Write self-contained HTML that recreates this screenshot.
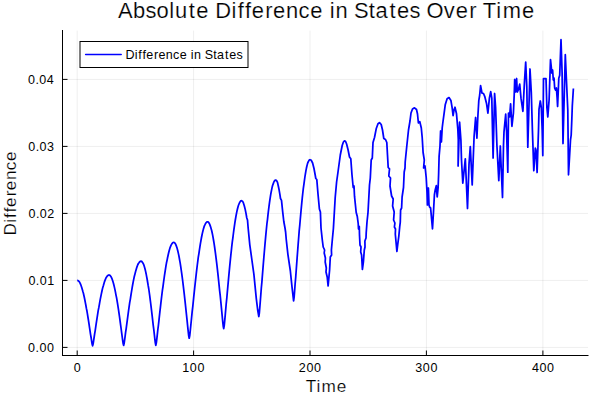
<!DOCTYPE html>
<html><head><meta charset="utf-8"><style>
html,body{margin:0;padding:0;background:#fff;}
svg{display:block;}
text{font-family:"Liberation Sans",sans-serif;fill:#000;}
.big{stroke:#fff;stroke-width:0.2px;paint-order:fill;}
</style></head><body>
<svg width="600" height="400" viewBox="0 0 600 400">
<rect width="600" height="400" fill="#fff"/>
<g stroke="#000" stroke-opacity="0.065" stroke-width="1"><line x1="77.2" y1="30.6" x2="77.2" y2="355" /><line x1="193.6" y1="30.6" x2="193.6" y2="355" /><line x1="310.0" y1="30.6" x2="310.0" y2="355" /><line x1="426.4" y1="30.6" x2="426.4" y2="355" /><line x1="542.9" y1="30.6" x2="542.9" y2="355" /><line x1="62" y1="347.4" x2="588" y2="347.4" /><line x1="62" y1="280.4" x2="588" y2="280.4" /><line x1="62" y1="213.4" x2="588" y2="213.4" /><line x1="62" y1="146.4" x2="588" y2="146.4" /><line x1="62" y1="79.4" x2="588" y2="79.4" /></g>
<g stroke="#000" stroke-width="1">
<line x1="62.5" y1="30" x2="62.5" y2="355.5"/>
<line x1="62" y1="355.5" x2="588.5" y2="355.5"/>
<line x1="77.2" y1="350.5" x2="77.2" y2="355" /><line x1="193.6" y1="350.5" x2="193.6" y2="355" /><line x1="310.0" y1="350.5" x2="310.0" y2="355" /><line x1="426.4" y1="350.5" x2="426.4" y2="355" /><line x1="542.9" y1="350.5" x2="542.9" y2="355" /><line x1="63" y1="347.4" x2="67.5" y2="347.4" /><line x1="63" y1="280.4" x2="67.5" y2="280.4" /><line x1="63" y1="213.4" x2="67.5" y2="213.4" /><line x1="63" y1="146.4" x2="67.5" y2="146.4" /><line x1="63" y1="79.4" x2="67.5" y2="79.4" />
</g>
<g><text x="73.72" y="371.9" font-size="12.53">0</text><text x="182.26 189.86 197.38" y="371.9" font-size="12.53">100</text><text x="298.79 306.47 314.00" y="371.9" font-size="12.53">200</text><text x="415.34 422.86 430.38" y="371.9" font-size="12.53">300</text><text x="531.99 539.52 547.04" y="371.9" font-size="12.53">400</text><text x="28.12 35.51 39.41 46.94" y="351.8" font-size="12.53">0.00</text><text x="28.43 35.81 39.71 47.18" y="284.8" font-size="12.53">0.01</text><text x="28.52 35.90 39.81 47.18" y="217.8" font-size="12.53">0.02</text><text x="28.28 35.67 39.57 47.11" y="150.8" font-size="12.53">0.03</text><text x="28.00 35.38 39.29 46.81" y="83.8" font-size="12.53">0.04</text></g>
<text x="117.90 132.90 145.49 156.46 169.33 175.06 188.71 196.19 208.85 215.27 231.58 237.74 245.03 251.77 265.19 273.01 285.94 298.52 310.25 322.92 329.70 335.51 348.37 354.07 368.80 375.42 389.60 397.07 409.55 420.52 426.48 443.80 455.71 469.14 476.89 482.86 496.32 502.63 522.10" y="17.9" font-size="21.93" class="big">Absolute Difference in States Over Time</text>
<text x="305.86 316.43 321.38 336.67" y="391.8" font-size="17.2" class="big">Time</text>
<text x="-235.53 -222.73 -217.89 -212.17 -206.88 -196.34 -190.20 -180.05 -170.18 -160.97" y="0" font-size="17.2" class="big" transform="translate(16.2,0) rotate(-90)">Difference</text>
<path d="M77.2,280.3 L77.7,280.4 L78.2,280.7 L78.7,281.1 L79.3,281.8 L79.8,282.6 L80.3,283.6 L80.8,284.8 L81.3,286.2 L81.8,287.7 L82.3,289.4 L82.8,291.3 L83.4,293.3 L83.9,295.5 L84.4,297.8 L84.9,300.2 L85.4,302.8 L85.9,305.5 L86.4,308.4 L87.0,311.3 L87.5,314.3 L88.0,317.5 L88.5,320.7 L89.0,323.9 L89.5,327.3 L90.0,330.7 L90.5,334.1 L91.1,337.5 L91.6,340.9 L92.1,344.0 L92.6,345.8 L93.1,344.1 L93.6,340.9 L94.1,337.5 L94.6,334.1 L95.2,330.6 L95.7,327.2 L96.2,323.7 L96.7,320.4 L97.2,317.1 L97.7,313.9 L98.2,310.7 L98.8,307.7 L99.3,304.8 L99.8,301.9 L100.3,299.2 L100.8,296.6 L101.3,294.1 L101.8,291.7 L102.3,289.5 L102.8,287.4 L103.4,285.5 L103.9,283.7 L104.4,282.1 L104.9,280.6 L105.4,279.3 L105.9,278.2 L106.4,277.2 L107.0,276.4 L107.5,275.8 L108.0,275.4 L108.5,275.1 L109.0,275.0 L109.5,275.1 L110.0,275.4 L110.5,276.0 L111.0,276.7 L111.5,277.7 L112.0,278.8 L112.5,280.2 L113.0,281.8 L113.5,283.5 L114.0,285.5 L114.5,287.6 L115.0,289.9 L115.5,292.4 L116.0,295.1 L116.6,297.9 L117.1,300.8 L117.6,303.9 L118.1,307.1 L118.6,310.4 L119.1,313.9 L119.6,317.4 L120.1,321.1 L120.6,324.8 L121.1,328.5 L121.6,332.3 L122.1,336.1 L122.6,339.9 L123.1,343.4 L123.6,345.4 L124.1,343.6 L124.6,340.1 L125.1,336.3 L125.6,332.4 L126.2,328.5 L126.7,324.7 L127.2,320.8 L127.7,317.1 L128.2,313.3 L128.7,309.7 L129.2,306.1 L129.7,302.6 L130.3,299.3 L130.8,296.0 L131.3,292.8 L131.8,289.8 L132.3,286.8 L132.8,284.0 L133.3,281.4 L133.8,278.9 L134.3,276.5 L134.9,274.3 L135.4,272.3 L135.9,270.4 L136.4,268.7 L136.9,267.1 L137.4,265.7 L137.9,264.5 L138.4,263.5 L139.0,262.7 L139.5,262.0 L140.0,261.6 L140.5,261.3 L141.0,261.2 L141.5,261.3 L142.0,261.7 L142.5,262.4 L143.0,263.2 L143.6,264.4 L144.1,265.8 L144.6,267.4 L145.1,269.3 L145.6,271.4 L146.1,273.7 L146.6,276.3 L147.1,279.0 L147.6,282.0 L148.1,285.2 L148.7,288.5 L149.2,292.0 L149.7,295.7 L150.2,299.6 L150.7,303.5 L151.2,307.7 L151.7,311.9 L152.2,316.2 L152.7,320.6 L153.2,325.1 L153.8,329.7 L154.3,334.2 L154.8,338.7 L155.3,342.9 L155.8,345.3 L156.3,343.1 L156.8,339.1 L157.3,334.6 L157.8,330.0 L158.4,325.4 L158.9,320.8 L159.4,316.2 L159.9,311.7 L160.4,307.3 L160.9,302.9 L161.4,298.7 L161.9,294.5 L162.4,290.4 L163.0,286.5 L163.5,282.7 L164.0,279.0 L164.5,275.4 L165.0,272.1 L165.5,268.8 L166.0,265.7 L166.5,262.8 L167.1,260.1 L167.6,257.5 L168.1,255.2 L168.6,253.0 L169.1,251.0 L169.6,249.2 L170.1,247.6 L170.6,246.3 L171.1,245.1 L171.7,244.1 L172.2,243.4 L172.7,242.8 L173.2,242.5 L173.7,242.4 L174.2,242.5 L174.7,242.9 L175.2,243.5 L175.7,244.4 L176.2,245.6 L176.7,247.0 L177.2,248.6 L177.7,250.5 L178.2,252.6 L178.7,254.9 L179.2,257.5 L179.7,260.3 L180.2,263.2 L180.7,266.4 L181.2,269.8 L181.7,273.4 L182.2,277.1 L182.7,281.0 L183.2,285.1 L183.7,289.3 L184.2,293.6 L184.7,298.1 L185.2,302.7 L185.7,307.3 L186.2,312.1 L186.7,316.9 L187.2,321.7 L187.7,326.6 L188.2,331.3 L188.7,335.8 L189.2,338.2 L189.7,335.9 L190.2,331.4 L190.7,326.5 L191.2,321.5 L191.7,316.4 L192.2,311.3 L192.8,306.3 L193.3,301.3 L193.8,296.4 L194.3,291.6 L194.8,286.9 L195.3,282.3 L195.8,277.8 L196.3,273.4 L196.8,269.1 L197.3,265.0 L197.8,261.1 L198.3,257.2 L198.9,253.6 L199.4,250.1 L199.9,246.8 L200.4,243.7 L200.9,240.8 L201.4,238.0 L201.9,235.5 L202.4,233.1 L202.9,231.0 L203.4,229.1 L203.9,227.4 L204.4,225.9 L205.0,224.7 L205.5,223.6 L206.0,222.8 L206.5,222.3 L207.0,221.9 L207.5,221.8 L208.0,221.9 L208.5,222.3 L209.0,223.0 L209.5,223.9 L210.0,225.1 L210.5,226.6 L211.0,228.3 L211.6,230.3 L212.1,232.5 L212.6,234.9 L213.1,237.6 L213.6,240.5 L214.1,243.7 L214.6,247.0 L215.1,250.6 L215.6,254.3 L216.1,258.3 L216.6,262.4 L217.1,266.7 L217.6,271.1 L218.1,275.7 L218.6,280.5 L219.1,285.3 L219.6,290.3 L220.2,295.3 L220.7,300.5 L221.2,305.7 L221.7,310.9 L222.2,316.1 L222.7,321.3 L223.2,326.0 L223.7,328.6 L224.2,325.9 L224.7,320.9 L225.2,315.3 L225.7,309.6 L226.2,303.8 L226.8,298.1 L227.3,292.4 L227.8,286.8 L228.3,281.3 L228.8,275.9 L229.3,270.6 L229.8,265.4 L230.3,260.4 L230.8,255.5 L231.3,250.8 L231.8,246.2 L232.3,241.8 L232.9,237.6 L233.4,233.5 L233.9,229.7 L234.4,226.1 L234.9,222.7 L235.4,219.5 L235.9,216.6 L236.4,213.9 L236.9,211.4 L237.4,209.2 L237.9,207.2 L238.4,205.5 L239.0,204.0 L239.5,202.8 L240.0,201.9 L240.5,201.2 L241.0,200.8 L241.5,200.7 L242.5,201.2 L243.4,202.9 L244.2,205.5 L245.2,209.4 L246.1,213.9 L246.8,218.0 L247.5,220.0 L248.2,228.5 L249.8,244.8 L251.9,260.0 L253.9,274.3 L256.3,298.7 L257.7,310.0 L258.8,316.5 L259.3,313.4 L259.8,307.5 L260.3,301.2 L260.8,294.7 L261.3,288.2 L261.9,281.8 L262.4,275.4 L262.9,269.1 L263.4,262.9 L263.9,256.9 L264.4,251.0 L264.9,245.2 L265.4,239.6 L265.9,234.2 L266.4,229.0 L266.9,224.0 L267.5,219.3 L268.0,214.7 L268.5,210.4 L269.0,206.4 L269.5,202.6 L270.0,199.1 L270.5,195.9 L271.0,192.9 L271.5,190.3 L272.0,187.9 L272.5,185.8 L273.1,184.1 L273.6,182.7 L274.1,181.5 L274.6,180.7 L275.1,180.3 L275.6,180.1 L276.6,180.6 L277.5,182.4 L278.2,185.5 L279.1,189.8 L279.8,193.9 L280.5,198.5 L281.5,200.3 L282.7,211.8 L283.8,221.5 L285.0,228.0 L285.6,232.0 L286.3,240.0 L287.9,254.3 L290.3,270.5 L292.0,286.8 L293.6,300.8 L294.1,297.4 L294.6,291.1 L295.1,284.3 L295.7,277.4 L296.2,270.5 L296.7,263.6 L297.2,256.9 L297.7,250.2 L298.2,243.6 L298.7,237.2 L299.2,230.9 L299.8,224.9 L300.3,219.0 L300.8,213.3 L301.3,207.9 L301.8,202.7 L302.3,197.7 L302.8,193.0 L303.3,188.6 L303.9,184.4 L304.4,180.6 L304.9,177.0 L305.4,173.8 L305.9,170.9 L306.4,168.3 L306.9,166.0 L307.4,164.1 L307.9,162.5 L308.5,161.3 L309.0,160.4 L309.5,159.9 L310.0,159.7 L311.3,160.3 L312.6,163.0 L314.0,168.5 L315.2,175.0 L315.8,178.5 L316.8,179.5 L318.0,194.0 L319.4,209.0 L320.4,212.0 L321.0,228.0 L322.3,240.0 L323.2,247.0 L324.6,250.0 L324.2,253.0 L325.4,258.0 L325.2,262.0 L326.3,268.0 L326.0,272.0 L327.2,277.0 L328.1,286.0 L329.6,270.0 L330.3,257.0 L331.6,255.0 L331.4,250.0 L332.3,240.0 L333.4,228.5 L335.2,197.5 L336.6,182.0 L338.0,172.0 L340.3,155.0 L342.2,145.5 L343.4,142.0 L344.5,140.8 L345.6,141.5 L346.6,144.0 L348.0,149.5 L349.5,157.0 L350.8,158.8 L352.0,175.0 L353.2,187.5 L354.0,186.0 L354.5,196.2 L356.2,212.5 L357.3,216.6 L358.2,223.5 L358.5,229.0 L359.3,226.5 L359.5,235.0 L360.0,245.0 L361.0,247.0 L360.7,252.0 L361.6,255.0 L362.4,269.5 L363.4,262.0 L364.3,250.0 L365.0,247.0 L364.9,241.0 L366.0,238.0 L366.2,233.0 L367.0,222.0 L368.0,212.5 L369.5,185.0 L370.3,178.0 L371.2,160.0 L372.3,158.0 L373.0,142.5 L374.5,137.5 L376.2,128.8 L378.0,123.8 L379.5,122.6 L381.2,124.5 L382.5,130.0 L383.8,138.5 L385.5,139.5 L386.8,142.5 L387.5,155.0 L388.2,167.5 L389.5,168.8 L388.8,176.0 L390.5,178.0 L390.0,186.0 L391.6,196.0 L393.2,199.0 L392.6,206.0 L394.2,212.0 L393.6,220.0 L394.9,223.0 L394.4,227.0 L395.5,229.0 L395.3,234.0 L396.9,251.5 L397.8,243.8 L398.8,236.3 L399.7,226.9 L400.3,222.0 L400.6,210.0 L401.6,208.0 L402.1,197.0 L403.5,187.5 L404.2,172.0 L405.0,168.0 L405.2,162.0 L406.8,146.0 L408.5,130.0 L410.0,121.0 L411.0,113.0 L412.5,109.0 L414.5,107.8 L416.5,109.5 L417.5,114.0 L418.4,123.0 L419.8,121.6 L421.3,128.0 L422.2,137.5 L423.1,152.5 L424.3,160.0 L423.6,168.0 L425.0,166.0 L426.2,177.5 L427.0,192.0 L427.4,205.0 L428.4,188.0 L429.0,205.0 L429.7,207.2 L430.6,208.0 L432.5,228.8 L433.6,210.0 L434.4,195.0 L435.2,190.0 L436.3,185.6 L437.2,196.9 L438.1,188.0 L438.6,175.0 L439.1,156.3 L440.0,146.0 L440.6,131.0 L441.4,142.0 L442.2,128.0 L442.8,123.0 L443.8,115.6 L445.3,104.4 L447.1,98.8 L449.0,97.6 L450.9,100.4 L452.2,108.1 L453.1,115.6 L454.0,110.0 L455.0,107.2 L456.5,113.8 L457.8,128.8 L458.3,140.0 L458.1,166.0 L459.6,122.2 L460.9,140.0 L461.5,160.0 L462.8,183.2 L465.3,158.8 L467.5,208.5 L469.0,164.4 L470.3,146.6 L472.2,185.0 L474.1,136.3 L475.6,117.5 L476.9,138.2 L477.8,117.5 L478.8,100.6 L479.7,95.0 L480.6,85.6 L482.0,93.1 L483.5,93.5 L484.7,96.3 L486.6,103.8 L487.9,113.2 L489.4,98.1 L490.7,91.6 L491.8,98.1 L493.1,158.0 L494.6,93.5 L495.6,107.5 L496.9,145.0 L498.8,180.7 L500.3,146.0 L501.5,175.0 L502.5,197.5 L503.5,145.0 L504.0,131.9 L505.7,114.1 L506.6,131.9 L507.8,172.2 L508.5,113.2 L509.6,116.9 L510.6,103.8 L511.9,126.3 L513.4,113.2 L514.2,95.0 L514.7,79.5 L515.6,92.0 L516.6,78.5 L517.3,92.0 L518.4,89.7 L519.7,84.1 L521.0,98.2 L522.9,111.3 L524.4,83.1 L525.7,62.1 L526.8,86.9 L527.8,147.2 L530.0,69.0 L531.3,92.5 L532.4,130.0 L533.8,170.6 L535.3,148.1 L536.0,150.0 L537.1,172.5 L538.5,130.0 L539.0,109.4 L540.3,101.0 L541.3,107.5 L542.2,130.0 L542.8,155.6 L543.5,78.5 L546.0,78.5 L546.9,107.5 L547.8,117.0 L549.1,100.0 L550.5,59.7 L551.9,73.2 L552.6,70.0 L553.3,80.0 L554.0,78.0 L554.7,88.2 L555.6,90.0 L556.4,88.0 L557.1,97.5 L557.6,106.5 L558.8,78.2 L559.7,75.3 L561.0,39.7 L562.1,72.5 L563.0,143.5 L565.3,54.7 L566.6,83.8 L567.8,110.0 L568.5,174.8 L570.5,140.0 L571.2,135.0 L571.8,120.0 L572.3,106.0 L573.4,88.5" fill="none" stroke="#0000ff" stroke-width="1.75" stroke-linejoin="round" stroke-linecap="butt"/>
<rect x="80" y="41.5" width="168" height="26" fill="#fff" stroke="#000" stroke-width="1"/>
<line x1="85.6" y1="54.6" x2="121.2" y2="54.6" stroke="#0000ff" stroke-width="1.5" stroke-linecap="round"/>
<text x="125.39 134.71 138.23 142.39 146.24 153.91 158.39 165.77 172.96 179.67 186.90 190.78 194.10 201.45 204.71 213.13 216.91 225.01 229.28 236.42" y="58.7" font-size="12.53">Difference in States</text>
</svg>
</body></html>
